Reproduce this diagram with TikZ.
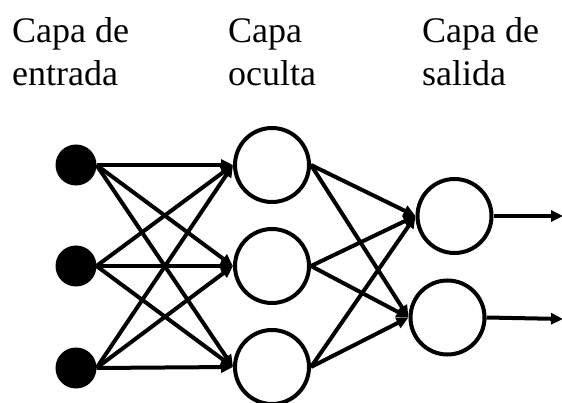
\documentclass[tikz,border=0pt]{standalone}
\usepackage{fontspec}
\setmainfont{Liberation Serif}
\usetikzlibrary{arrows.meta}
\begin{document}
\begin{tikzpicture}[x=1pt,y=-1pt,
  lbl/.style={anchor=base west,align=left,inner sep=0pt,font=\fontsize{36}{43.2}\selectfont},
  inp/.style={circle,fill=black,minimum size=41pt,inner sep=0pt,outer sep=0pt},
  neuron/.style={circle,draw=black,line width=4pt,fill=white,minimum size=74pt,inner sep=0pt},
  conn/.style={line width=4pt,-{Triangle[length=12pt,width=11pt]}}]
\useasboundingbox (0,0) rectangle (562,403);
\node[lbl] (l1) at (12,86) {Capa de\\entrada};
\node[lbl] (l2) at (228,86) {Capa\\oculta};
\node[lbl] (l3) at (422,86) {Capa de\\salida};
\node[inp] (i1) at (76,165) {};
\node[inp] (i2) at (76,266) {};
\node[inp] (i3) at (76,368) {};
\node[neuron] (h1) at (272,165) {};
\node[neuron] (h2) at (272,266) {};
\node[neuron] (h3) at (272,367) {};
\node[neuron] (o1) at (454.5,216) {};
\node[neuron] (o2) at (447.5,317.5) {};
\coordinate (e1) at (563,216);
\coordinate (e2) at (563,319);
\foreach \i in {1,2,3}{
  \foreach \h in {1,2,3}{
    \draw[conn] (i\i.east) -- (h\h.west);
  }
  \foreach \o in {1,2}{
    \draw[conn] (h\i.east) -- (o\o.west);
  }
}
\draw[conn] (o1.east) -- (e1);
\draw[conn] (o2.east) -- (e2);
\end{tikzpicture}
\end{document}
